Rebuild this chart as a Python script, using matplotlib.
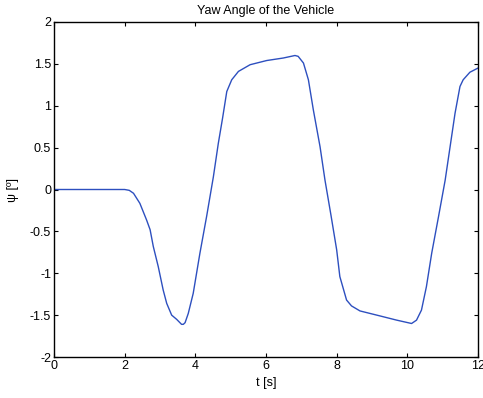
import matplotlib
matplotlib.use("Agg")
import matplotlib.pyplot as plt

# yaw angle
t = [0.0, 1.0, 2.0, 2.13, 2.25, 2.43, 2.62, 2.72, 2.81, 2.95, 3.09, 3.19, 3.33,
     3.47, 3.61, 3.66, 3.71, 3.80, 3.94, 4.13, 4.32, 4.51, 4.65, 4.77, 4.89,
     5.03, 5.22, 5.55, 6.02, 6.49, 6.82, 6.91, 7.06, 7.20, 7.34, 7.53, 7.67,
     7.84, 8.0, 8.09, 8.28, 8.42, 8.66, 9.23, 9.70, 10.12, 10.26, 10.40, 10.54,
     10.69, 10.88, 11.07, 11.21, 11.35, 11.49, 11.58, 11.77, 12.0]
psi = [0.0, 0.0, 0.0, -0.01, -0.045, -0.165, -0.364, -0.48, -0.68, -0.92, -1.2,
       -1.36, -1.50, -1.55, -1.61, -1.61, -1.59, -1.48, -1.24, -0.76, -0.32,
       0.15, 0.55, 0.85, 1.17, 1.31, 1.41, 1.49, 1.54, 1.57, 1.60, 1.59, 1.51,
       1.31, 0.95, 0.51, 0.11, -0.31, -0.72, -1.04, -1.32, -1.39, -1.45, -1.51,
       -1.56, -1.60, -1.56, -1.44, -1.16, -0.76, -0.33, 0.11, 0.51, 0.91, 1.23,
       1.31, 1.40, 1.45]

plt.rcParams['font.family'] = ['Liberation Sans', 'DejaVu Sans']
plt.rcParams['font.size'] = 9

fig = plt.figure(figsize=(4.83, 3.98), dpi=100)
ax = fig.add_axes([54 / 483, 1 - 357 / 398, 424 / 483, 335 / 398])

ax.plot(t, psi, color='#2d4fbf', linewidth=1.0)

ax.set_xlim(0, 12)
ax.set_ylim(-2, 2)
ax.set_xticks(range(0, 13, 2))
ax.set_yticks([-2, -1.5, -1, -0.5, 0, 0.5, 1, 1.5, 2])
ax.set_yticklabels(['-2', '-1.5', '-1', '-0.5', '0', '0.5', '1', '1.5', '2'])
ax.tick_params(direction='in', top=True, right=True, length=3, width=0.8,
               labelsize=9, pad=2)
for s in ax.spines.values():
    s.set_linewidth(1.0)

ax.set_title('Yaw Angle of the Vehicle', fontsize=9, pad=6)
ax.set_xlabel('t [s]', fontsize=9, labelpad=4)
ax.set_ylabel('ψ [º]', fontsize=9, labelpad=8)

fig.savefig('out.png', dpi=100)
